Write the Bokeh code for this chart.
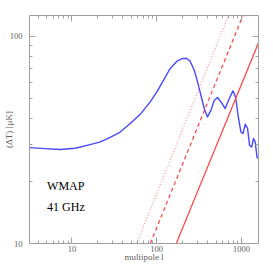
from bokeh.plotting import figure
from bokeh.models import LogAxis, FixedTicker, Label, Range1d, CustomJSTickFormatter
from bokeh.embed import file_html
from bokeh.resources import INLINE

# ---- data ----
cmb_l = [3.16, 4.84, 7.3, 10.9, 16.4, 21.6, 28.3, 37.1, 48.7, 63.9, 83.8, 100.5, 120.4,
         144.3, 173, 198, 223, 248, 277, 303, 332, 363, 397, 436, 477, 521, 571, 642,
         703, 792, 850, 922, 984, 1039, 1106, 1177, 1243, 1313, 1385, 1451, 1520, 1545]
cmb_T = [29.0, 28.7, 28.4, 28.8, 30.0, 30.9, 32.5, 34.5, 37.9, 42.0, 48.2, 53.9, 61.4,
         69.9, 75.8, 78.0, 78.3, 75.8, 68.5, 60.2, 51.9, 44.8, 40.8, 44.0, 49.1, 50.6,
         48.2, 44.8, 49.1, 54.5, 50.9, 40.1, 34.5, 33.9, 37.6, 35.9, 29.8, 29.2, 32.1,
         30.9, 26.2, 25.7]

solid_l = [170, 1585]
solid_T = [10, 93]
dashed_l = [84, 1040]
dashed_T = [10, 126]
dotted_l = [58, 703]
dotted_T = [10, 126]

x_major = [10, 100, 1000]
x_major_labels = ["10", "100", "1000"]
x_minor = [4, 5, 6, 7, 8, 9, 20, 30, 40, 50, 60, 70, 80, 90,
           200, 300, 400, 500, 600, 700, 800, 900]
y_major = [10, 100]
y_major_labels = ["10", "100"]
y_minor = [20, 30, 40, 50, 60, 70, 80, 90]

x_lim = [10 ** 0.5, 10 ** 3.2]
y_lim = [10, 10 ** 2.1]

x_title = "multipole l"
y_title = "(ΔT) [μK]"

text_lines = ["WMAP", "41 GHz"]
text_x = [5.1, 5.1]
text_y = [18.9, 15.0]

GRAY = "#a0a0a0"
LABEL_GRAY = "#606060"
SERIF = "Liberation Serif"

p = figure(width=273, height=273, x_axis_type="log", y_axis_type="log",
           x_range=Range1d(*x_lim), y_range=Range1d(*y_lim),
           output_backend="svg", toolbar_location=None,
           min_border_left=29, min_border_right=15, min_border_top=15, min_border_bottom=30)
p.outline_line_color = None
p.grid.visible = False
p.background_fill_color = "white"
p.border_fill_color = "white"

blank = CustomJSTickFormatter(code="return ''")


def style_axis(ax, major, minor):
    ax.ticker = FixedTicker(ticks=major, minor_ticks=minor)
    ax.axis_line_color = GRAY
    ax.major_tick_line_color = GRAY
    ax.minor_tick_line_color = GRAY
    ax.major_tick_in = 6
    ax.major_tick_out = 0
    ax.minor_tick_in = 3
    ax.minor_tick_out = 0
    ax.major_label_text_font = SERIF
    ax.major_label_text_font_size = "8.5px"
    ax.major_label_text_color = LABEL_GRAY
    ax.axis_label_text_font = SERIF
    ax.axis_label_text_font_size = "9px"
    ax.axis_label_text_font_style = "normal"
    ax.axis_label_text_color = LABEL_GRAY


def blank_axis(ax):
    ax.formatter = blank
    ax.major_label_standoff = 0
    ax.major_label_text_font_size = "0px"
    ax.axis_label = None


xa, ya = p.xaxis[0], p.yaxis[0]
style_axis(xa, x_major, x_minor)
style_axis(ya, y_major, y_minor)
xa.major_label_overrides = {m: t for m, t in zip(x_major, x_major_labels)}
ya.major_label_overrides = {m: t for m, t in zip(y_major, y_major_labels)}
xa.major_label_standoff = 2
ya.major_label_standoff = 7
xa.axis_label = x_title
ya.axis_label = y_title
xa.axis_label_standoff = -3
ya.axis_label_standoff = -7

top = LogAxis()
right = LogAxis()
style_axis(top, x_major, x_minor)
style_axis(right, y_major, y_minor)
blank_axis(top)
blank_axis(right)
p.add_layout(top, "above")
p.add_layout(right, "right")

p.line(cmb_l, cmb_T, line_color="#4848ff", line_width=1.4, line_join="round")
p.line(solid_l, solid_T, line_color="#ff4040", line_width=1.2)
p.line(dashed_l, dashed_T, line_color="#ff4040", line_width=1.2, line_dash="4 3")
p.line(dotted_l, dotted_T, line_color="#ff9090", line_width=1.2, line_dash="1 2")

for t, tx, ty in zip(text_lines, text_x, text_y):
    p.add_layout(Label(x=tx, y=ty, text=t, text_font=SERIF, text_font_size="12px",
                       text_color="black", text_baseline="alphabetic"))

open("out.html", "w").write(file_html(p, INLINE))
